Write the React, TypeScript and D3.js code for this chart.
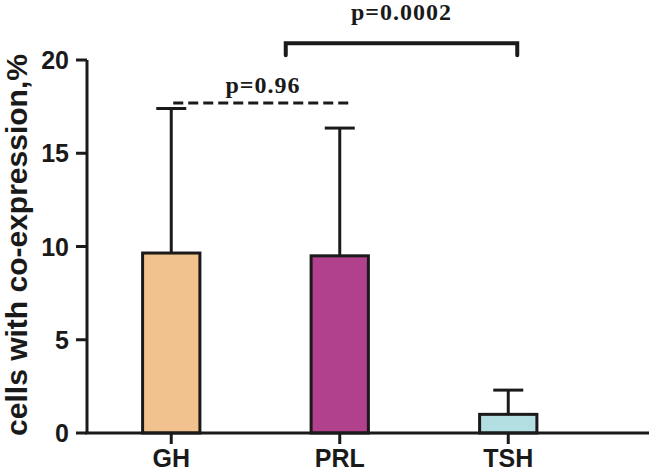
import React, { useEffect, useRef } from 'react';
import * as d3 from 'd3';

const categories = ['GH', 'PRL', 'TSH'];
const means = [9.65, 9.5, 1.0];
const errors = [17.4, 16.35, 2.3]; // upper end of the error bar
const colors = ['#F1C28E', '#B1408D', '#B3DEE2'];
const yTicks = [0, 5, 10, 15, 20];

// significance annotations: pairs of category indices
const comparisons = [
  { from: 0, to: 1, level: 17.7, label: 'p=0.96', dashed: true },
  { from: 1, to: 2, level: 20.9, label: 'p=0.0002', dashed: false },
];

const App: React.FC = () => {
  const svgRef = useRef<SVGSVGElement | null>(null);

  useEffect(() => {
    if (!svgRef.current) return;
    const svg = d3.select(svgRef.current);
    svg.selectAll('*').remove();

    const width = 650;
    const height = 473;
    const left = 87;
    const step = 168.5;
    const sans = '"Liberation Sans", Arial, sans-serif';
    const serif = '"Liberation Serif", "Times New Roman", serif';

    svg.attr('width', width).attr('height', height);

    const x = d3.scaleBand()
      .domain(categories)
      .range([left, left + step * categories.length])
      .paddingInner(0.66)
      .paddingOuter(0.33);

    const y = d3.scaleLinear().domain([0, 20]).range([433, 60]);

    const g = svg.append('g');

    // Error bars (drawn first so bars cover the stem)
    categories.forEach((c, i) => {
      const cx = x(c)! + x.bandwidth() / 2;
      g.append('line')
        .attr('x1', cx).attr('x2', cx)
        .attr('y1', y(means[i])).attr('y2', y(errors[i]))
        .attr('stroke', '#1a1a1a').attr('stroke-width', 3);
      g.append('line')
        .attr('x1', cx - 15).attr('x2', cx + 15)
        .attr('y1', y(errors[i])).attr('y2', y(errors[i]))
        .attr('stroke', '#1a1a1a').attr('stroke-width', 3);
    });

    // Bars
    g.selectAll('rect.bar')
      .data(categories)
      .enter()
      .append('rect')
      .attr('class', 'bar')
      .attr('x', d => x(d)!)
      .attr('y', (d, i) => y(means[i]))
      .attr('width', x.bandwidth())
      .attr('height', (d, i) => y(0) - y(means[i]))
      .attr('fill', (d, i) => colors[i])
      .attr('stroke', '#1a1a1a')
      .attr('stroke-width', 3);

    // Y axis
    g.append('line')
      .attr('x1', left).attr('x2', left)
      .attr('y1', y(0)).attr('y2', y(20))
      .attr('stroke', '#1a1a1a').attr('stroke-width', 3);
    yTicks.forEach(t => {
      g.append('line')
        .attr('x1', left - 11).attr('x2', left)
        .attr('y1', y(t)).attr('y2', y(t))
        .attr('stroke', '#1a1a1a').attr('stroke-width', 3);
      g.append('text')
        .attr('x', left - 18).attr('y', y(t))
        .attr('dy', '0.36em')
        .attr('text-anchor', 'end')
        .style('font-family', sans).style('font-weight', 'bold').style('font-size', '25px')
        .attr('fill', '#1a1a1a')
        .text(t);
    });

    // X axis
    g.append('line')
      .attr('x1', left - 1.5).attr('x2', 649)
      .attr('y1', y(0)).attr('y2', y(0))
      .attr('stroke', '#1a1a1a').attr('stroke-width', 3);
    categories.forEach(c => {
      const cx = x(c)! + x.bandwidth() / 2;
      g.append('line')
        .attr('x1', cx).attr('x2', cx)
        .attr('y1', y(0)).attr('y2', y(0) + 11)
        .attr('stroke', '#1a1a1a').attr('stroke-width', 3);
      g.append('text')
        .attr('x', cx).attr('y', 467)
        .attr('text-anchor', 'middle')
        .style('font-family', sans).style('font-weight', 'bold').style('font-size', '25px')
        .attr('fill', '#1a1a1a')
        .text(c);
    });

    // Y label
    g.append('text')
      .attr('transform', `translate(27, 245) rotate(-90)`)
      .attr('text-anchor', 'middle')
      .style('font-family', sans).style('font-weight', 'bold').style('font-size', '30px')
      .attr('fill', '#1a1a1a')
      .text('cells with co-expression,%');

    // Significance annotations
    comparisons.forEach(cmp => {
      const x1 = x(categories[cmp.from])! + x.bandwidth() / 2 + (cmp.dashed ? 2 : -54);
      const x2 = x(categories[cmp.to])! + x.bandwidth() / 2 + (cmp.dashed ? 13 : 9);
      const ly = y(cmp.level);
      if (cmp.dashed) {
        g.append('line')
          .attr('x1', x1).attr('x2', x2)
          .attr('y1', ly).attr('y2', ly)
          .attr('stroke', '#1a1a1a').attr('stroke-width', 3)
          .attr('stroke-dasharray', '10,5');
      } else {
        g.append('path')
          .attr('d', `M${x1},${ly + 12}V${ly}H${x2}V${ly + 12}`)
          .attr('fill', 'none')
          .attr('stroke', '#1a1a1a').attr('stroke-width', 4)
          .attr('stroke-linecap', 'round');
      }
      g.append('text')
        .attr('x', (x1 + x2) / 2)
        .attr('y', ly - (cmp.dashed ? 10 : 23))
        .attr('text-anchor', 'middle')
        .style('font-family', serif).style('font-weight', 'bold').style('font-size', '24px')
        .style('letter-spacing', '1px')
        .attr('fill', '#1a1a1a')
        .text(cmp.label);
    });
  }, []);

  return <svg ref={svgRef} style={{ position: 'absolute', left: 0, top: 0 }}></svg>;
};

export default App;
